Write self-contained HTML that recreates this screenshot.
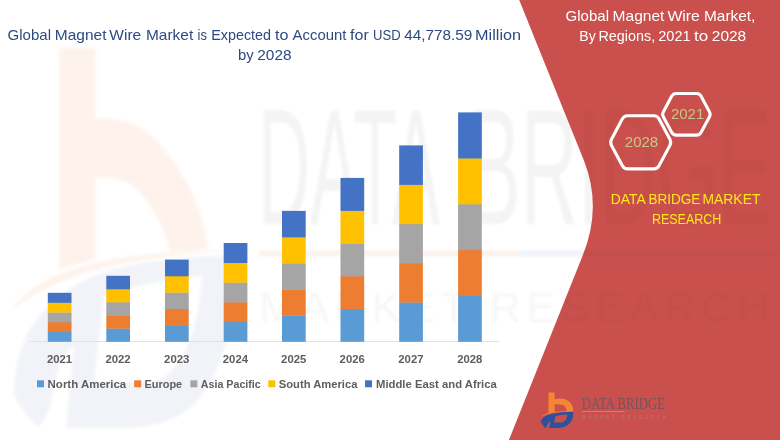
<!DOCTYPE html>
<html><head><meta charset="utf-8">
<style>
html,body{margin:0;padding:0;background:#fff;}
body{width:780px;height:440px;overflow:hidden;font-family:"Liberation Sans",sans-serif;}
svg{display:block;}
text{font-family:"Liberation Sans",sans-serif;}
.ser{font-family:"Liberation Serif",serif;}
</style></head><body>
<svg width="780" height="440" viewBox="0 0 780 440">
<defs>
  <g id="logomark">
    <!-- orange b -->
    <path class="o" d="M548.5,392.5 H554.6 V399.3 C560,397.8 566,398.6 569.6,402 C572.4,404.6 573.3,408 573.1,411.2 L566.6,411.6 C566.6,408.6 565.4,406.2 562.6,405 C560.2,404 557,404 554.6,404.6 V412.3 L548.5,413.2 Z"/>
    <path class="o" d="M540.2,417 C545,412.6 556,410.6 576.5,411 C558,411.6 548,413.2 540.2,417 Z"/>
    <!-- blue D swoosh -->
    <path class="b" fill-rule="evenodd" d="M540.7,422 C541.5,417.5 547,414.3 555,413.2 C561,412.4 567,412.1 573.3,412 C573.6,417 572,421.5 568.5,424.6 C565.5,427.2 561.5,427.9 556,427.9 H549.4 L550.6,421.3 C549,422 547.8,423.4 547.3,425.2 C546.9,426.4 546.2,427.4 544.6,427.9 C543.6,426 542,423.6 540.7,422 Z M555.6,415.9 L554,422.6 H561 C564.4,422.4 567,419.4 567.4,414.4 C563,414.6 559,415.2 555.6,415.9 Z"/>
  </g>
  <filter id="blur2" x="-5%" y="-5%" width="110%" height="110%"><feGaussianBlur stdDeviation="1.5"/></filter>
  <filter id="blur1" x="-5%" y="-5%" width="110%" height="110%"><feGaussianBlur stdDeviation="1"/></filter>
  <clipPath id="redclip"><path d="M519.2,0 L583.7,160 Q602.4,206.4 582.9,255 L508.9,440 H780 V0 Z"/></clipPath>
</defs>
<rect width="780" height="440" fill="#fff"/>

<!-- big watermark mark -->
<g id="wmmark" opacity="0.085" filter="url(#blur2)">
  <path fill="#ED7D31" d="M59,48 H95.5 V118.6 C110,118 122,120 131,123 C145,128 155,138 163,148 C174,161 183,175 190,189 C198,205 203,220 206,234.5 L208,249 L169.5,252 C166,235 161,222 153.6,212 C146,200 137,187 126,182 C116,178 105,177 95.5,177.7 V259 L59,270 Z"/>
  <path fill="#ED7D31" d="M10,312 C40,268 110,250 245,250 C130,256 60,272 10,312 Z"/>
  <path fill="#2F5597" opacity="0.75" fill-rule="evenodd" d="M14,395 C14,330 50,290 110,270 C150,259 195,256 236,255 C238,305 228,360 200,398 C180,422 150,428 120,428 H66 L74,345 C62,355 56,372 52,395 C50,410 46,420 38,427 C28,418 18,405 14,395 Z M104,296 L94,382 H150 C180,378 198,335 202,276 C165,280 130,286 104,296 Z"/>
</g>

<!-- watermark text (over everything, very faint) -->
<g id="wmtext" fill="#000" filter="url(#blur1)">
  <g opacity="0.045" font-size="100" transform="translate(0 224) scale(1 1.66)">
    <text x="258" y="0" textLength="182" lengthAdjust="spacingAndGlyphs">DATA</text>
    <text x="468" y="0" textLength="303" lengthAdjust="spacingAndGlyphs">BRIDGE</text>
  </g>
  <rect x="259" y="250.5" width="261" height="6" fill="#ED7D31" opacity="0.09"/>
  <rect x="520" y="250.5" width="260" height="6" fill="#2F5597" opacity="0.06"/>
  <text opacity="0.03" x="259" y="322" font-size="43" textLength="510" lengthAdjust="spacing">MARKET RESEARCH</text>
</g>

<!-- red panel -->
<path id="red" d="M519.2,0 L583.7,160 Q602.4,206.4 582.9,255 L508.9,440 H780 V0 Z" fill="#C9504C"/>
<g clip-path="url(#redclip)" opacity="0.5"><use href="#wmtext"/></g>


<!-- title -->
<g fill="#2D4A84" font-size="14.5">
  <text x="7.6" y="40" textLength="43.4" lengthAdjust="spacingAndGlyphs">Global</text>
  <text x="54.8" y="40" textLength="51.7" lengthAdjust="spacingAndGlyphs">Magnet</text>
  <text x="109.3" y="40" textLength="31.9" lengthAdjust="spacingAndGlyphs">Wire</text>
  <text x="146.0" y="40" textLength="47.2" lengthAdjust="spacingAndGlyphs">Market</text>
  <text x="197.6" y="40" textLength="9.3" lengthAdjust="spacingAndGlyphs">is</text>
  <text x="211.3" y="40" textLength="59.7" lengthAdjust="spacingAndGlyphs">Expected</text>
  <text x="275.1" y="40" textLength="13.4" lengthAdjust="spacingAndGlyphs">to</text>
  <text x="292.6" y="40" textLength="53.9" lengthAdjust="spacingAndGlyphs">Account</text>
  <text x="350.1" y="40" textLength="18.6" lengthAdjust="spacingAndGlyphs">for</text>
  <text x="373.0" y="40" textLength="27.7" lengthAdjust="spacingAndGlyphs">USD</text>
  <text x="404.3" y="40" textLength="68.1" lengthAdjust="spacingAndGlyphs">44,778.59</text>
  <text x="475.1" y="40" textLength="45.9" lengthAdjust="spacingAndGlyphs">Million</text>
  <text x="238.0" y="59.7" textLength="15.7" lengthAdjust="spacingAndGlyphs">by</text>
  <text x="257.3" y="59.7" textLength="34.2" lengthAdjust="spacingAndGlyphs">2028</text>
</g>

<!-- axis -->
<rect x="30" y="341" width="469" height="1" fill="#E2E2E2"/>

<!-- bars -->
<g id="bars">
<rect x="47.8" y="331.76" width="23.7" height="10.04" fill="#5B9BD5"/>
<rect x="47.8" y="322.02" width="23.7" height="10.04" fill="#ED7D31"/>
<rect x="47.8" y="312.28" width="23.7" height="10.04" fill="#A5A5A5"/>
<rect x="47.8" y="302.54" width="23.7" height="10.04" fill="#FFC000"/>
<rect x="47.8" y="292.80" width="23.7" height="10.04" fill="#4472C4"/>
<rect x="106.3" y="328.36" width="23.7" height="13.44" fill="#5B9BD5"/>
<rect x="106.3" y="315.22" width="23.7" height="13.44" fill="#ED7D31"/>
<rect x="106.3" y="302.08" width="23.7" height="13.44" fill="#A5A5A5"/>
<rect x="106.3" y="288.94" width="23.7" height="13.44" fill="#FFC000"/>
<rect x="106.3" y="275.80" width="23.7" height="13.44" fill="#4472C4"/>
<rect x="165.0" y="325.12" width="23.7" height="16.68" fill="#5B9BD5"/>
<rect x="165.0" y="308.74" width="23.7" height="16.68" fill="#ED7D31"/>
<rect x="165.0" y="292.36" width="23.7" height="16.68" fill="#A5A5A5"/>
<rect x="165.0" y="275.98" width="23.7" height="16.68" fill="#FFC000"/>
<rect x="165.0" y="259.60" width="23.7" height="16.68" fill="#4472C4"/>
<rect x="223.7" y="321.80" width="23.7" height="20.00" fill="#5B9BD5"/>
<rect x="223.7" y="302.10" width="23.7" height="20.00" fill="#ED7D31"/>
<rect x="223.7" y="282.40" width="23.7" height="20.00" fill="#A5A5A5"/>
<rect x="223.7" y="262.70" width="23.7" height="20.00" fill="#FFC000"/>
<rect x="223.7" y="243.00" width="23.7" height="20.00" fill="#4472C4"/>
<rect x="282.0" y="315.38" width="23.7" height="26.42" fill="#5B9BD5"/>
<rect x="282.0" y="289.26" width="23.7" height="26.42" fill="#ED7D31"/>
<rect x="282.0" y="263.14" width="23.7" height="26.42" fill="#A5A5A5"/>
<rect x="282.0" y="237.02" width="23.7" height="26.42" fill="#FFC000"/>
<rect x="282.0" y="210.90" width="23.7" height="26.42" fill="#4472C4"/>
<rect x="340.5" y="308.78" width="23.7" height="33.02" fill="#5B9BD5"/>
<rect x="340.5" y="276.06" width="23.7" height="33.02" fill="#ED7D31"/>
<rect x="340.5" y="243.34" width="23.7" height="33.02" fill="#A5A5A5"/>
<rect x="340.5" y="210.62" width="23.7" height="33.02" fill="#FFC000"/>
<rect x="340.5" y="177.90" width="23.7" height="33.02" fill="#4472C4"/>
<rect x="399.2" y="302.28" width="23.7" height="39.52" fill="#5B9BD5"/>
<rect x="399.2" y="263.06" width="23.7" height="39.52" fill="#ED7D31"/>
<rect x="399.2" y="223.84" width="23.7" height="39.52" fill="#A5A5A5"/>
<rect x="399.2" y="184.62" width="23.7" height="39.52" fill="#FFC000"/>
<rect x="399.2" y="145.40" width="23.7" height="39.52" fill="#4472C4"/>
<rect x="458.1" y="295.68" width="23.7" height="46.12" fill="#5B9BD5"/>
<rect x="458.1" y="249.86" width="23.7" height="46.12" fill="#ED7D31"/>
<rect x="458.1" y="204.04" width="23.7" height="46.12" fill="#A5A5A5"/>
<rect x="458.1" y="158.22" width="23.7" height="46.12" fill="#FFC000"/>
<rect x="458.1" y="112.40" width="23.7" height="46.12" fill="#4472C4"/>
</g>

<!-- year labels -->
<g id="years" fill="#5E5E5E" font-size="11.2" font-weight="bold" text-anchor="middle">
<text x="59.5" y="362.7" textLength="25.2" lengthAdjust="spacingAndGlyphs">2021</text>
<text x="118.0" y="362.7" textLength="25.2" lengthAdjust="spacingAndGlyphs">2022</text>
<text x="176.7" y="362.7" textLength="25.2" lengthAdjust="spacingAndGlyphs">2023</text>
<text x="235.4" y="362.7" textLength="25.2" lengthAdjust="spacingAndGlyphs">2024</text>
<text x="293.7" y="362.7" textLength="25.2" lengthAdjust="spacingAndGlyphs">2025</text>
<text x="352.2" y="362.7" textLength="25.2" lengthAdjust="spacingAndGlyphs">2026</text>
<text x="410.9" y="362.7" textLength="25.2" lengthAdjust="spacingAndGlyphs">2027</text>
<text x="469.8" y="362.7" textLength="25.2" lengthAdjust="spacingAndGlyphs">2028</text>
</g>

<!-- legend -->
<g id="legend" fill="#5E5E5E" font-size="11.5" font-weight="bold">
  <rect x="37" y="380.3" width="7" height="7" fill="#5B9BD5"/>
  <text x="47.6" y="387.6" textLength="78.6" lengthAdjust="spacingAndGlyphs">North America</text>
  <rect x="134.2" y="380.3" width="7" height="7" fill="#ED7D31"/>
  <text x="144.4" y="387.6" textLength="37.8" lengthAdjust="spacingAndGlyphs">Europe</text>
  <rect x="190.3" y="380.3" width="7" height="7" fill="#A5A5A5"/>
  <text x="200.8" y="387.6" textLength="60" lengthAdjust="spacingAndGlyphs">Asia Pacific</text>
  <rect x="268.3" y="380.3" width="7" height="7" fill="#FFC000"/>
  <text x="278.8" y="387.6" textLength="78.6" lengthAdjust="spacingAndGlyphs">South America</text>
  <rect x="365" y="380.3" width="7" height="7" fill="#4472C4"/>
  <text x="376" y="387.6" textLength="120.8" lengthAdjust="spacingAndGlyphs">Middle East and Africa</text>
</g>

<!-- right title -->
<g fill="#fff" font-size="14.4">
  <text x="565.6" y="21.3" textLength="43.4" lengthAdjust="spacingAndGlyphs">Global</text>
  <text x="612.6" y="21.3" textLength="51.8" lengthAdjust="spacingAndGlyphs">Magnet</text>
  <text x="667.4" y="21.3" textLength="32.5" lengthAdjust="spacingAndGlyphs">Wire</text>
  <text x="704.0" y="21.3" textLength="51.4" lengthAdjust="spacingAndGlyphs">Market,</text>
  <text x="579.3" y="41" textLength="16.4" lengthAdjust="spacingAndGlyphs">By</text>
  <text x="598.5" y="41" textLength="56.7" lengthAdjust="spacingAndGlyphs">Regions,</text>
  <text x="658.2" y="41" textLength="32.5" lengthAdjust="spacingAndGlyphs">2021</text>
  <text x="694.0" y="41" textLength="14.2" lengthAdjust="spacingAndGlyphs">to</text>
  <text x="711.8" y="41" textLength="34.4" lengthAdjust="spacingAndGlyphs">2028</text>
</g>

<!-- hexagons -->
<g fill="none" stroke="#fff" stroke-width="3.1" stroke-linejoin="round">
  <path d="M611.5,145.4 Q609.9,142.3 611.5,139.2 L622.4,118.8 Q624.1,115.7 627.6,115.7 L653.8,115.7 Q657.3,115.7 659.0,118.8 L669.9,139.2 Q671.5,142.3 669.9,145.4 L659.0,165.8 Q657.3,168.9 653.8,168.9 L627.6,168.9 Q624.1,168.9 622.4,165.8 Z"/>
  <path d="M663.4,116.9 Q661.9,114.3 663.4,111.7 L671.8,96.1 Q673.2,93.5 676.2,93.5 L696.6,93.5 Q699.6,93.5 701.0,96.1 L709.4,111.7 Q710.9,114.3 709.4,116.9 L701.0,132.5 Q699.6,135.1 696.6,135.1 L676.2,135.1 Q673.2,135.1 671.8,132.5 Z"/>
</g>
<g fill="#C4C88A" font-size="15" text-anchor="middle">
  <text x="641.5" y="147.3">2028</text>
  <text x="687.6" y="118.9">2021</text>
</g>

<!-- yellow label -->
<g fill="#FFE81C" font-size="14.2">
  <text x="610.8" y="204" textLength="34.9" lengthAdjust="spacingAndGlyphs">DATA</text>
  <text x="648.5" y="204" textLength="51.9" lengthAdjust="spacingAndGlyphs">BRIDGE</text>
  <text x="702.5" y="204" textLength="57.9" lengthAdjust="spacingAndGlyphs">MARKET</text>
  <text x="651.9" y="223.6" textLength="69.5" lengthAdjust="spacingAndGlyphs">RESEARCH</text>
</g>

<!-- small logo -->
<g id="smalllogo">
  <use href="#logomark" style="--o:#F58634;--b:#2A52A0"/>
  <text class="ser" x="581.8" y="409.2" font-size="17.4" fill="#735560" textLength="83.3" lengthAdjust="spacingAndGlyphs">DATA BRIDGE</text>
  <rect x="581.8" y="411" width="43" height="1" fill="#F07A3C"/>
  <rect x="624.8" y="411" width="42" height="1" fill="#8A6A86"/>
  <text x="581.8" y="418.8" font-size="4.6" fill="#B57878" textLength="84.6" lengthAdjust="spacing">MARKET RESEARCH</text>
</g>
</svg>
<style>
#logomark .o{fill:var(--o);} #logomark .b{fill:var(--b);}
</style>
</body></html>
